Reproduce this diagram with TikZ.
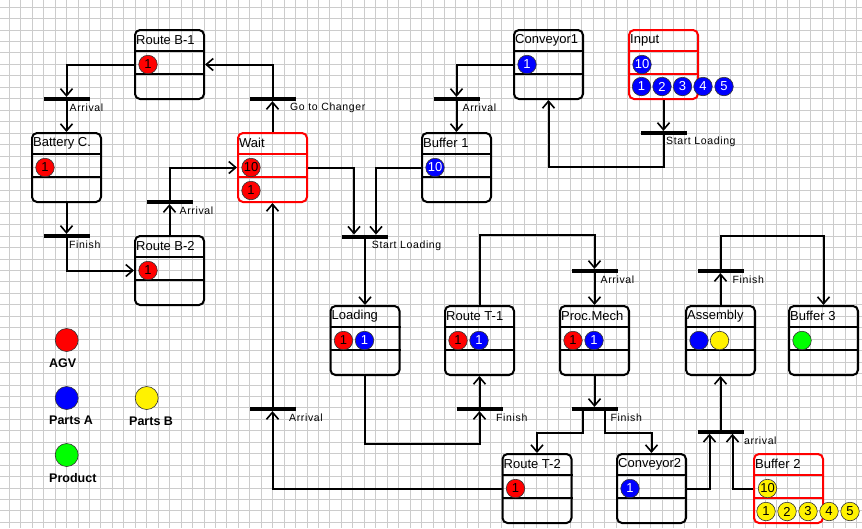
\documentclass[tikz,border=0pt]{standalone}
\usepackage{fontspec}
\setmainfont{Liberation Sans}
\newfontfamily\lblfont[LetterSpace=6]{Liberation Sans}
\usetikzlibrary{arrows.meta}
\definecolor{gridgray}{RGB}{204,204,204}
\tikzset{
  pbox/.style={draw, line width=2pt, rounded corners=5pt, minimum width=69pt, minimum height=69pt, inner sep=0pt},
  ptitle/.style={anchor=west, inner sep=0pt, font=\fontsize{13}{15}\selectfont},
  tok/.style={circle, draw=black!80, line width=0.6pt, minimum size=18.5pt, inner sep=0pt, font=\fontsize{13}{13}\selectfont},
  agv/.style={tok, fill=red},
  pa/.style={tok, fill=blue, text=white},
  pb/.style={tok, fill=yellow},
  prod/.style={tok, fill=green},
  tbar/.style={fill=black, minimum width=46pt, minimum height=3.8pt, inner sep=0pt},
  lbl/.style={anchor=west, inner sep=0pt, font=\lblfont\fontsize{10.5}{12}\selectfont},
  flow/.style={line width=2pt, -{Straight Barb[length=7pt,width=12pt,line width=1.6pt]}},
  legdot/.style={circle, draw=black!80, line width=0.6pt, minimum size=23pt, inner sep=0pt},
  leglbl/.style={anchor=west, inner sep=0pt, font=\bfseries\fontsize{12.5}{14}\selectfont}
}
% place box: [colour]{name}{position}{title}
\newcommand{\petriplace}[4][black]{%
  \node[pbox, draw=#1] (#2) at (#3) {};
  \draw[#1, line width=2pt] ([yshift=-22pt]#2.north west) -- ([yshift=-22pt]#2.north east)
    ([yshift=-45pt]#2.north west) -- ([yshift=-45pt]#2.north east);
  \node[ptitle] (#2-name) at ([xshift=2pt,yshift=-11pt]#2.north west) {#4};
}
\begin{document}
\begin{tikzpicture}[x=1pt, y=-1pt]
\useasboundingbox (0,0) rectangle (862,528);
\fill[white] (0,0) rectangle (862,528);
% background grid
\foreach \i in {0,...,74}
  \draw[gridgray, line width=0.9pt] ({9.3+11.45*\i},0) -- ({9.3+11.45*\i},528);
\foreach \j in {0,...,45}
  \draw[gridgray, line width=0.9pt] (0,{7.1+11.45*\j}) -- (862,{7.1+11.45*\j});

% places
\petriplace{rb1}{169.5,64.5}{Route B-1}
\petriplace{bat}{66.5,167.5}{Battery C.}
\petriplace[red]{wait}{272.5,167.5}{Wait}
\petriplace{buf1}{456.5,167.5}{Buffer 1}
\petriplace{conv1}{548.5,64.5}{Conveyor1}
\petriplace[red]{input}{663.5,64.5}{Input}
\petriplace{rb2}{169.5,270.5}{Route B-2}
\petriplace{load}{365,340.5}{Loading}
\petriplace{rt1}{479.5,340.5}{Route T-1}
\petriplace{proc}{594.5,340.5}{Proc.Mech}
\petriplace{asm}{720.5,340.5}{Assembly}
\petriplace{buf3}{823.5,340.5}{Buffer 3}
\petriplace{rt2}{537,488.5}{Route T-2}
\petriplace{conv2}{651.5,488.5}{Conveyor2}
\petriplace[red]{buf2}{788.5,488.5}{Buffer 2}

% tokens
\node[agv] (rb1-k) at ([xshift=14pt]rb1.west) {1};
\node[agv] (bat-k) at ([xshift=14pt]bat.west) {1};
\node[agv] (wait-k1) at ([xshift=14pt]wait.west) {10};
\node[agv] (wait-k2) at ([xshift=14pt,yshift=-23pt]wait.west) {1};
\node[pa] (buf1-k) at ([xshift=14pt]buf1.west) {10};
\node[pa] (conv1-k) at ([xshift=14pt]conv1.west) {1};
\node[pa] (input-k) at ([xshift=14pt]input.west) {10};
\node[pa] (input-k1) at ([xshift=13.5pt,yshift=-22pt]input.west) {1};
\node[pa] (input-k2) at ([xshift=34pt,yshift=-22pt]input.west) {2};
\node[pa] (input-k3) at ([xshift=54.5pt,yshift=-22pt]input.west) {3};
\node[pa] (input-k4) at ([xshift=75pt,yshift=-22pt]input.west) {4};
\node[pa] (input-k5) at ([xshift=96pt,yshift=-22pt]input.west) {5};
\node[agv] (rb2-k) at ([xshift=14pt]rb2.west) {1};
\node[agv] (load-k1) at ([xshift=14pt]load.west) {1};
\node[pa] (load-k2) at ([xshift=35pt]load.west) {1};
\node[agv] (rt1-k1) at ([xshift=14pt]rt1.west) {1};
\node[pa] (rt1-k2) at ([xshift=35pt]rt1.west) {1};
\node[agv] (proc-k1) at ([xshift=14pt]proc.west) {1};
\node[pa] (proc-k2) at ([xshift=35pt]proc.west) {1};
\node[pa] (asm-k1) at ([xshift=14pt]asm.west) {};
\node[pb] (asm-k2) at ([xshift=34.5pt]asm.west) {};
\node[prod] (buf3-k) at ([xshift=14pt]buf3.west) {};
\node[agv] (rt2-k) at ([xshift=14pt]rt2.west) {1};
\node[pa] (conv2-k) at ([xshift=14pt]conv2.west) {1};
\node[pb] (buf2-k) at ([xshift=14.5pt]buf2.west) {10};
\node[pb] (buf2-k1) at ([xshift=13pt,yshift=-23pt]buf2.west) {1};
\node[pb] (buf2-k2) at ([xshift=34pt,yshift=-23pt]buf2.west) {2};
\node[pb] (buf2-k3) at ([xshift=55pt,yshift=-23pt]buf2.west) {3};
\node[pb] (buf2-k4) at ([xshift=76pt,yshift=-23pt]buf2.west) {4};
\node[pb] (buf2-k5) at ([xshift=97pt,yshift=-23pt]buf2.west) {5};

% transitions
\node[tbar] (t1) at (66.5,99) {};
\node[lbl] (t1-l) at ([xshift=3pt,yshift=-8.7pt]t1.center) {Arrival};
\node[tbar] (t2) at (272.5,99) {};
\node[lbl] (t2-l) at ([xshift=17.5pt,yshift=-8.7pt]t2.center) {Go to Changer};
\node[tbar] (t3) at (66.5,236) {};
\node[lbl] (t3-l) at ([xshift=2.5pt,yshift=-8.7pt]t3.center) {Finish};
\node[tbar] (t4) at (169.5,202) {};
\node[lbl] (t4-l) at ([xshift=10pt,yshift=-8.7pt]t4.center) {Arrival};
\node[tbar] (t5) at (365,236.7) {};
\node[lbl] (t5-l) at ([xshift=6.7pt,yshift=-8.7pt]t5.center) {Start Loading};
\node[tbar] (t6) at (456.5,99) {};
\node[lbl] (t6-l) at ([xshift=6pt,yshift=-8.7pt]t6.center) {Arrival};
\node[tbar] (t7) at (663.5,133) {};
\node[lbl] (t7-l) at ([xshift=2.5pt,yshift=-8.7pt]t7.center) {Start Loading};
\node[tbar] (t8) at (479.5,409) {};
\node[lbl] (t8-l) at ([xshift=16.5pt,yshift=-8.7pt]t8.center) {Finish};
\node[tbar] (t9) at (272.5,409) {};
\node[lbl] (t9-l) at ([xshift=16.5pt,yshift=-8.7pt]t9.center) {Arrival};
\node[tbar] (t10) at (594.5,271) {};
\node[lbl] (t10-l) at ([xshift=6pt,yshift=-8.7pt]t10.center) {Arrival};
\node[tbar] (t11) at (594.5,409) {};
\node[lbl] (t11-l) at ([xshift=16pt,yshift=-8.7pt]t11.center) {Finish};
\node[tbar] (t12) at (720.5,431.7) {};
\node[lbl] (t12-l) at ([xshift=23.5pt,yshift=-9pt]t12.center) {arrival};
\node[tbar] (t13) at (720.5,271) {};
\node[lbl] (t13-l) at ([xshift=12pt,yshift=-8.7pt]t13.center) {Finish};

% arcs
\draw[flow] (rb1) -| (t1);
\draw[flow] (t1) -- (bat);
\draw[flow] (wait) -- (t2);
\draw[flow] (t2) |- (rb1);
\draw[flow] (bat) -- (t3);
\draw[flow] (t3) |- (rb2);
\draw[flow] (rb2) -- (t4);
\draw[flow] (t4) |- (wait);
\draw[flow] (wait) -| ([xshift=-11pt]t5.north);
\draw[flow] (buf1) -| ([xshift=11pt]t5.north);
\draw[flow] (t5) -- (load);
\draw[flow] (conv1) -| (t6);
\draw[flow] (t6) -- (buf1);
\draw[flow] (input) -- (t7);
\draw[flow] (t7.south) -- ++(0,32) -| (conv1);
\draw[flow] (load.south) -- ++(0,68) -| (t8);
\draw[flow] (t8) -- (rt1);
\draw[flow] (rt2) -| (t9);
\draw[flow] (t9) -- (wait);
\draw[flow] (rt1.north) -- ++(0,-70) -| (t10);
\draw[flow] (t10) -- (proc);
\draw[flow] (proc) -- (t11);
\draw[flow] ([xshift=-12pt]t11.south) -- ++(0,22) -| (rt2);
\draw[flow] ([xshift=10.5pt]t11.south) -- ++(0,22) -| (conv2);
\draw[flow] (conv2) -| ([xshift=-11pt]t12.south);
\draw[flow] (buf2) -| ([xshift=12pt]t12.south);
\draw[flow] (t12) -- (asm);
\draw[flow] (asm) -- (t13);
\draw[flow] (t13.north) -- ++(0,-33) -| (buf3);

% legend
\node[legdot, fill=red] (leg-agv) at (66.7,340) {};
\node[leglbl] (leg-agv-l) at (49,363) {AGV};
\node[legdot, fill=blue] (leg-pa) at (66.7,398) {};
\node[leglbl] (leg-pa-l) at (49,420.7) {Parts A};
\node[legdot, fill=yellow] (leg-pb) at (146.7,398) {};
\node[leglbl] (leg-pb-l) at (129,421) {Parts B};
\node[legdot, fill=green] (leg-prod) at (66.7,455) {};
\node[leglbl] (leg-prod-l) at (49,478) {Product};
\end{tikzpicture}
\end{document}
